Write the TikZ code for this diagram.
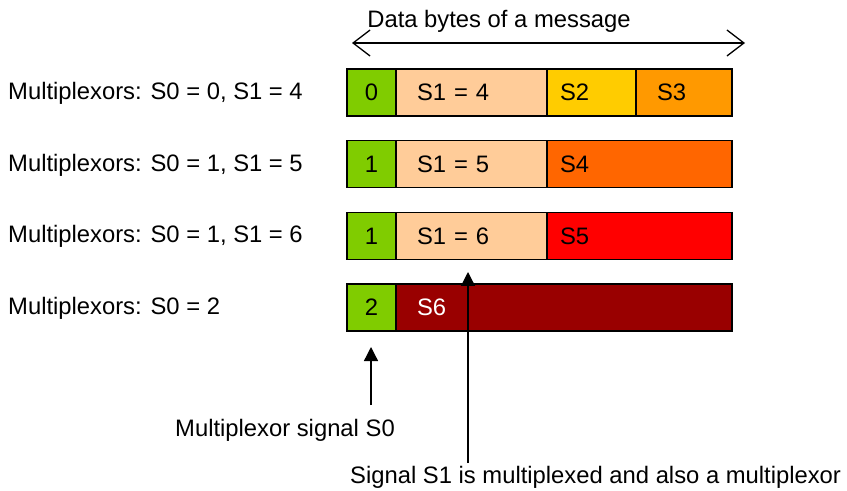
\documentclass[tikz,border=0pt]{standalone}
\usepackage{fontspec}
\setmainfont{Liberation Sans}
\usetikzlibrary{arrows.meta,calc}
\definecolor{selgreen}{RGB}{128,204,0}
\definecolor{peach}{RGB}{255,204,153}
\definecolor{sigtwo}{RGB}{255,204,0}
\definecolor{sigthree}{RGB}{255,153,0}
\definecolor{sigfour}{RGB}{255,102,0}
\definecolor{sigfive}{RGB}{255,0,0}
\definecolor{sigsix}{RGB}{153,0,0}
\tikzset{
  cell/.style={draw,line width=1.5bp,anchor=north west,minimum height=47bp,inner ysep=0pt,outer sep=0pt,align=left},
  txt/.style={anchor=base west,inner sep=0pt},
  pointer/.style={-{Triangle[length=14bp,width=14bp]},line width=1.3bp}
}

\begin{document}
\begin{tikzpicture}[x=1bp,y=-1bp,font=\fontsize{23.8bp}{28bp}\selectfont]
  \useasboundingbox (0,0) rectangle (847,491);
  \def\dy{71.67}
  % multiplexor S0 cells and row labels
  \foreach \i/\v/\lab in {1/0/{0, S1 = 4},2/1/{1, S1 = 5},3/1/{1, S1 = 6},4/2/{2}}{
    \node[cell,fill=selgreen,align=center,text width=41bp,inner xsep=4bp] (g\i) at (347,{69+\dy*(\i-1)}) {\v};
    \node[txt] (l\i) at (8,{99.5+\dy*(\i-1)}) {Multiplexors: S0 = \lab};
  }
  % S1 cells
  \foreach \i/\v in {1/4,2/5,3/6}
    \node[cell,fill=peach,text width=109bp,inner xsep=21bp] (m\i) at (g\i.north east) {S1 = \v};
  \node[cell,fill=sigtwo,text width=63bp,inner xsep=13bp] (s2) at (m1.north east) {S2};
  \node[cell,fill=sigthree,text width=54bp,inner xsep=21bp] (s3) at (s2.north east) {S3};
  \node[cell,fill=sigfour,text width=159bp,inner xsep=13bp] (s4) at (m2.north east) {S4};
  \node[cell,fill=sigfive,text width=159bp,inner xsep=13bp] (s5) at (m3.north east) {S5};
  \node[cell,fill=sigsix,text=white,text width=294bp,inner xsep=21bp] (s6) at (g4.north east) {S6};
  % message width
  \node[anchor=base] (title) at (499,28) {Data bytes of a message};
  \coordinate (dl) at (352,43);
  \coordinate (dr) at (745,43);
  \draw[{Straight Barb[length=17bp,width=26bp]}-{Straight Barb[length=17bp,width=26bp]},line width=1.3bp] (dl)--(dr);
  % pointers
  \node[txt] (s0lab) at (175,436) {Multiplexor signal S0};
  \node[txt] (s1lab) at (350,483) {Signal S1 is multiplexed and also a multiplexor};
  \coordinate (s0tail) at (371,405);
  \coordinate (s0tip) at (371,347);
  \coordinate (s1tail) at (468,463);
  \coordinate (s1tip) at (468,272);
  \draw[pointer] (s0tail)--(s0tip);
  \draw[pointer] (s1tail)--(s1tip);
\end{tikzpicture}
\end{document}
